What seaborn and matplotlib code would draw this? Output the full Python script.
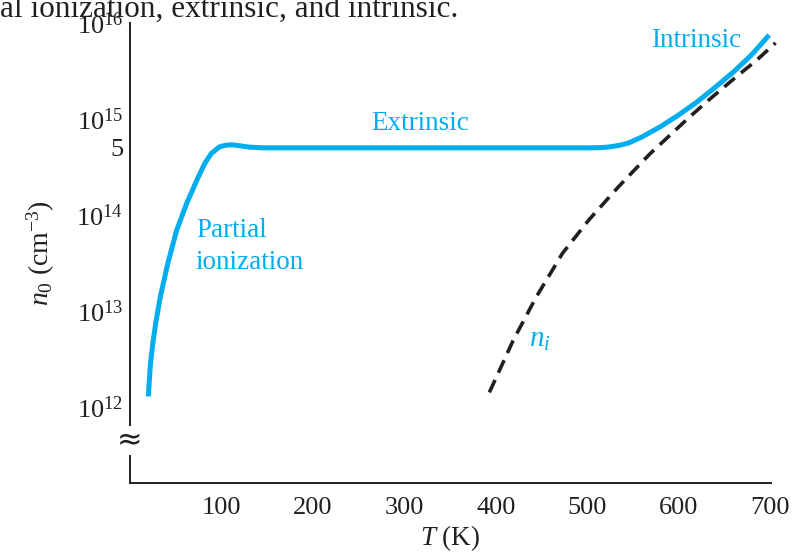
import numpy as np
import pandas as pd
import matplotlib
matplotlib.use("Agg")
import matplotlib.pyplot as plt
from matplotlib.ticker import FixedLocator, NullLocator
import seaborn as sns

# Electron concentration n0 versus temperature (cm^-3)
T_n0 = [20, 22.4, 25, 28, 33, 41.5, 51, 62, 73, 82, 89, 98, 105, 112, 120, 131, 145,
        200, 300, 400, 500, 515, 525, 535, 545, 560, 580, 600, 620, 640, 660, 680, 699]
n0 = [1.28e12, 2.85e12, 4.6e12, 7.3e12, 1.38e13, 3.16e13, 6.9e13, 1.32e14, 2.29e14,
      3.47e14, 4.37e14, 5.13e14, 5.33e14, 5.37e14, 5.25e14, 5.08e14, 5.0e14,
      5.0e14, 5.0e14, 5.0e14, 5.0e14, 5.02e14, 5.12e14, 5.3e14, 5.6e14, 6.5e14,
      8.3e14, 1.1e15, 1.5e15, 2.14e15, 3.09e15, 4.68e15, 7.5e15]

# Intrinsic carrier concentration ni versus temperature (cm^-3)
T_ni = [393, 419, 444, 473, 502, 535, 568, 612, 637, 663, 685, 706]
ni = [1.41e12, 4.9e12, 1.38e13, 3.98e13, 8.9e13, 2.0e14, 4.27e14, 1.05e15,
      1.70e15, 2.75e15, 4.07e15, 6.2e15]

x_ticks = [100, 200, 300, 400, 500, 600, 700]
y_ticks = [1e12, 1e13, 1e14, 5e14, 1e15, 1e16]
y_tick_labels = ["$10^{12}$", "$10^{13}$", "$10^{14}$", "5", "$10^{15}$", "$10^{16}$"]

BLUE = "#00aeef"
INK = "#231f20"

sns.set_theme(style="white")
plt.rcParams["font.family"] = ["Liberation Serif", "DejaVu Serif"]
plt.rcParams["mathtext.fontset"] = "custom"
plt.rcParams["mathtext.rm"] = "Liberation Serif"
plt.rcParams["mathtext.it"] = "Liberation Serif:italic"

fig = plt.figure(figsize=(8.03, 5.56), dpi=100)
ax = fig.add_axes([130 / 803, 1 - 483 / 556, (771 - 130) / 803, (483 - 23) / 556])

df_n0 = pd.DataFrame({"T": T_n0, "n": n0})
df_ni = pd.DataFrame({"T": T_ni, "n": ni})

sns.lineplot(data=df_n0, x="T", y="n", ax=ax, color=BLUE, linewidth=3.6,
             solid_capstyle="butt", solid_joinstyle="round", sort=False,
             clip_on=False, zorder=3)
sns.lineplot(data=df_ni, x="T", y="n", ax=ax, color=INK, linewidth=2.6,
             linestyle=(0, (3.8, 2.2)), dash_capstyle="butt", sort=False,
             clip_on=False, zorder=2)

ax.set_yscale("log")
ax.set_xlim(0, 701)
ax.set_ylim(10 ** 11.205, 1e16)

ax.xaxis.set_major_locator(FixedLocator(x_ticks))
ax.set_xticklabels([str(t) for t in x_ticks])
ax.yaxis.set_major_locator(FixedLocator(y_ticks))
ax.yaxis.set_minor_locator(NullLocator())
ax.set_yticklabels(y_tick_labels)

for side in ("top", "right"):
    ax.spines[side].set_visible(False)
for side in ("left", "bottom"):
    ax.spines[side].set_color(INK)
    ax.spines[side].set_linewidth(1.4)

ax.tick_params(axis="both", direction="in", length=8, width=1.2, color=INK,
               labelsize=19, labelcolor=INK)
ax.tick_params(axis="x", pad=10)
ax.tick_params(axis="y", pad=5)

ax.set_xlabel("$T$ (K)", fontsize=19.5, color=INK, labelpad=3)
ax.set_ylabel("$n_0$ (cm$^{-3}$)", fontsize=20, color=INK, labelpad=14)
ax.grid(False)

# Axis break marker on the y axis
ax.text(0, 10 ** 11.65, "\u2248", transform=ax.transData, ha="center",
        va="center", fontsize=22, color=INK, family="DejaVu Sans",
        clip_on=False, zorder=5,
        bbox=dict(boxstyle="square,pad=0.0", fc="white", ec="none"))

# Region labels
ax.text(619, 10 ** 15.82, "Intrinsic", color=BLUE, fontsize=19.5,
        ha="center", va="center")
ax.text(317, 10 ** 14.95, "Extrinsic", color=BLUE, fontsize=19.5,
        ha="center", va="center")
ax.text(72, 10 ** 13.67, "Partial\nionization", color=BLUE, fontsize=19.5,
        ha="left", va="center", linespacing=1.35)
ax.text(448, 10 ** 12.70, "$n_i$", color=BLUE, fontsize=21,
        ha="center", va="center")

fig.text(0.0, 1 - 17 / 556, "al ionization, extrinsic, and intrinsic.",
         fontsize=22.5, color=INK, ha="left", va="baseline")

fig.savefig("out.png", dpi=100)
